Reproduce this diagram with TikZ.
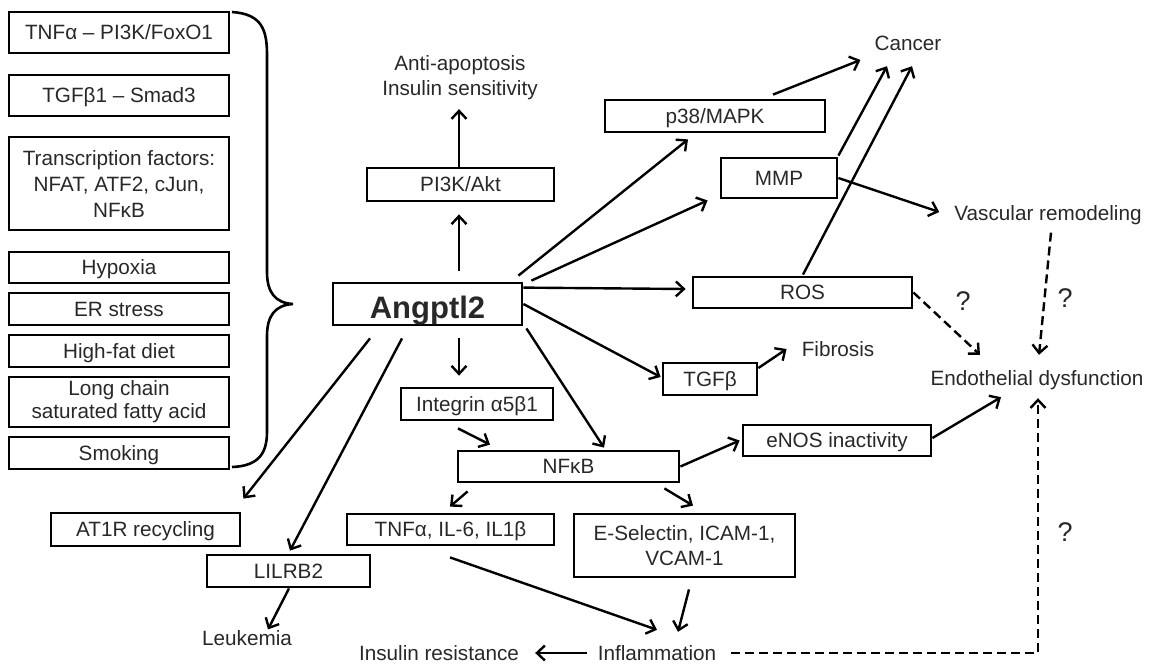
\documentclass[tikz,border=0pt]{standalone}
\usepackage{fontspec}
\setmainfont{Liberation Sans}
\usetikzlibrary{arrows.meta,calc}
\definecolor{txt}{RGB}{40,40,40}
\newcommand{\myfs}{\fontsize{20.7}{24}\selectfont}
\begin{document}
\begin{tikzpicture}[x=1pt,y=-1pt,
  box/.style={draw, line width=2.8pt, inner sep=0pt, font=\myfs, text=txt, align=center},
  sbox/.style={box, text height=14.8pt, text depth=0pt},
  lbl/.style={inner sep=0pt, font=\myfs, text=txt, text height=14.8pt, text depth=0pt},
  qm/.style={inner sep=0pt, font=\fontsize{27}{30}\selectfont, text=txt},
  arr/.style={line width=2.4pt, -{Straight Barb[length=8pt,width=15pt]}},
  darr/.style={arr, dash pattern=on 9pt off 5pt},
  brace/.style={line width=2.6pt}
]
\useasboundingbox (0,0) rectangle (1151,665);

% left column
\node[sbox, minimum width=220pt, minimum height=41pt] (tnf) at (119,32.5) {TNFα – PI3K/FoxO1};
\node[sbox, minimum width=220pt, minimum height=41pt] (tgf1) at (119,95.5) {TGFβ1 – Smad3};
\node[box, font=\fontsize{20.7}{26}\selectfont, minimum width=220pt, minimum height=93pt] (tf) at (119,183.5) {Transcription factors:\\NFAT, ATF2, cJun,\\NFκB};
\node[sbox, minimum width=220pt, minimum height=31pt] (hyp) at (119,267.5) {Hypoxia};
\node[sbox, minimum width=220pt, minimum height=32pt] (er) at (119,309) {ER stress};
\node[sbox, minimum width=220pt, minimum height=32pt] (hfd) at (119,351) {High-fat diet};
\node[box, font=\fontsize{20.7}{23}\selectfont, minimum width=220pt, minimum height=50pt] (lc) at (119,402) {Long chain\\saturated fatty acid};
\node[sbox, minimum width=220pt, minimum height=32pt] (smk) at (119,453) {Smoking};

% brace
\draw[brace] (232,12) .. controls (262,14) and (267,30) .. (267,55) -- (267,272)
  .. controls (267,292) and (275,303) .. (293,304)
  .. controls (275,305) and (267,316) .. (267,336) -- (267,432)
  .. controls (267,455) and (257,466) .. (232,467);

% central
\node[box, font=\bfseries\fontsize{31}{36}\selectfont, text height=28pt, text depth=0pt, minimum width=189pt, minimum height=42pt] (ang) at (427.5,304) {Angptl2};
\node[sbox, minimum width=187pt, minimum height=33pt] (pi3k) at (460.5,184.5) {PI3K/Akt};
\node[inner sep=0pt, font=\fontsize{20.7}{25}\selectfont, text=txt, align=center] (anti) at (460,77.5) {Anti-apoptosis\\Insulin sensitivity};
\node[sbox, minimum width=220pt, minimum height=32pt] (p38) at (715,116) {p38/MAPK};
\node[sbox, minimum width=116pt, minimum height=40pt] (mmp) at (779,178) {MMP};
\node[sbox, minimum width=219pt, minimum height=31pt] (ros) at (802.5,292.5) {ROS};
\node[sbox, minimum width=94pt, minimum height=32pt] (tgfb) at (710,379) {TGFβ};
\node[sbox, minimum width=152pt, minimum height=32pt] (integrin) at (477,404) {Integrin α5β1};
\node[sbox, minimum width=221pt, minimum height=31pt] (nfkb) at (568.5,466.5) {NFκB};
\node[sbox, minimum width=188pt, minimum height=31pt] (enos) at (837,440.5) {eNOS inactivity};
\node[sbox, minimum width=207pt, minimum height=31pt] (tnfil) at (450.5,529.5) {TNFα, IL-6, IL1β};
\node[box, font=\fontsize{20.7}{25}\selectfont, minimum width=221pt, minimum height=63pt] (esel) at (684.5,545.5) {E-Selectin, ICAM-1,\\VCAM-1};
\node[sbox, minimum width=189pt, minimum height=33pt] (at1r) at (145.5,529.5) {AT1R recycling};
\node[sbox, minimum width=163pt, minimum height=32pt] (lilrb2) at (288.5,571) {LILRB2};

% plain labels
\node[lbl] (cancer) at (908,43) {Cancer};
\node[lbl] (vasc) at (1048,213) {Vascular remodeling};
\node[lbl] (fibrosis) at (838,349) {Fibrosis};
\node[lbl] (endo) at (1037,378) {Endothelial dysfunction};
\node[lbl] (leuk) at (247,638) {Leukemia};
\node[lbl] (insres) at (439,653) {Insulin resistance};
\node[lbl] (inflam) at (657,653) {Inflammation};
\node[qm] (q1) at (963,301) {?};
\node[qm] (q2) at (1065,298) {?};
\node[qm] (q3) at (1065,532) {?};

% connectors
\draw[arr] ($(ang.north)+(31.5,-11)$) -- ($(pi3k.south)+(-1.5,12)$);
\draw[arr] ($(pi3k.north)+(-1.5,0)$) -- ($(anti.south)+(-1,9.3)$);
\draw[arr] ($(ang.north east)+(-5,-6)$) -- ($(p38.south)+(-27,6)$);
\draw[arr] ($(ang.north east)+(8,-1)$) -- ($(mmp.south west)+(-12,1)$);
\draw[arr] ($(ang.north east)+(0,6)$) -- ($(ros.west)+(-6,-3.5)$);
\draw[arr] (ang.east) -- ($(tgfb.west)+(-1,-2)$);
\draw[arr] ($(ang.south east)+(3,2)$) -- ($(nfkb.north)+(35.5,-2)$);
\draw[arr] ($(ang.south)+(31.5,12)$) -- ($(integrin.north)+(-18,-11)$);
\draw[arr] ($(ang.south)+(-57.5,12)$) -- ($(at1r.north east)+(2,-13)$);
\draw[arr] ($(ang.south)+(-25.5,12)$) -- ($(lilrb2.north)+(1.5,-3)$);
\draw[arr] ($(lilrb2.south)+(0.5,0)$) -- ($(leuk.north)+(21,-1)$);
\draw[arr] ($(integrin.south)+(-19,7)$) -- ($(nfkb.north)+(-78.5,-5)$);
\draw[arr] ($(nfkb.south west)+(11,8)$) -- ($(tnfil.north)+(-0.5,-6)$);
\draw[arr] ($(nfkb.south east)+(-16,5)$) -- ($(esel.north)+(8.5,-7)$);
\draw[arr] (nfkb.east) -- ($(enos.west)+(-2,0)$);
\draw[arr] ($(tnfil.south)+(-0.5,11)$) -- ($(inflam.north)+(0,-15.6)$);
\draw[arr] ($(esel.south)+(4.5,11)$) -- ($(inflam.north)+(21,-13.6)$);
\draw[arr] ($(inflam.west)+(-11,0)$) -- ($(insres.east)+(16,0)$);
\draw[darr] ($(inflam.east)+(15,0)$) -| ($(endo.south)+(1,12.6)$);
\draw[arr] ($(enos.east)+(0,-2.5)$) -- ($(endo.south)+(-36,11.6)$);
\draw[darr] (ros.east) -- ($(endo.north)+(-57,-15.6)$);
\draw[darr] ($(vasc.south)+(3,12)$) -- ($(endo.north)+(2,-15.6)$);
\draw[arr] (mmp.east) -- ($(vasc.west)+(-15,-1)$);
\draw[arr] ($(mmp.north east)+(0,-1)$) -- ($(cancer.south)+(-21,15.6)$);
\draw[arr] ($(ros.north)+(0.5,-1)$) -- ($(cancer.south)+(4,15.6)$);
\draw[arr] ($(p38.north)+(58,-4)$) -- ($(cancer.west)+(-14,17)$);
\draw[arr] ($(tgfb.east)+(0,-11)$) -- ($(fibrosis.west)+(-15,0)$);
\end{tikzpicture}
\end{document}
